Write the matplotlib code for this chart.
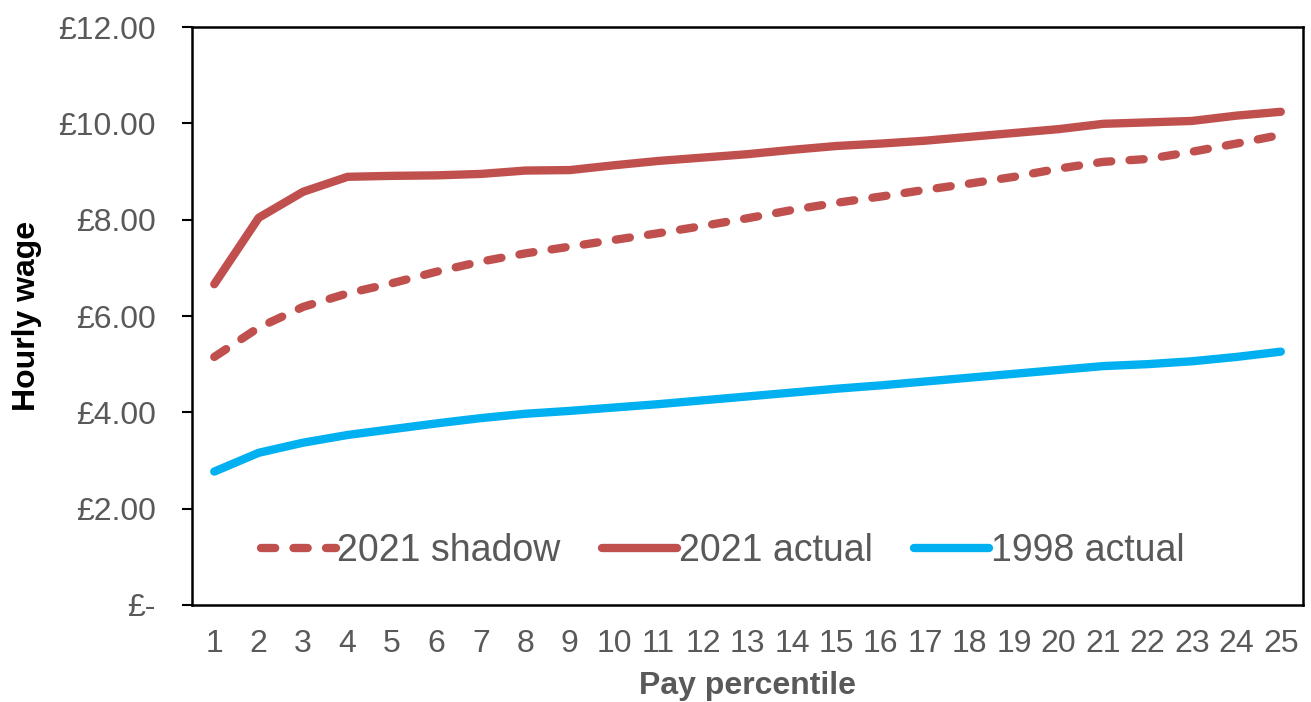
import matplotlib
matplotlib.use("Agg")
import matplotlib.pyplot as plt

plt.rcParams['font.family'] = ['Liberation Sans', 'DejaVu Sans']

# pay percentiles 1..25
percentiles = list(range(1, 26))

# hourly wage (GBP)
shadow_2021 = [5.15, 5.76, 6.19, 6.47, 6.68, 6.92, 7.13, 7.30, 7.44, 7.58,
               7.72, 7.87, 8.03, 8.20, 8.35, 8.48, 8.62, 8.75, 8.89, 9.06,
               9.20, 9.26, 9.41, 9.58, 9.76]
actual_2021 = [6.66, 8.04, 8.58, 8.89, 8.91, 8.92, 8.95, 9.02, 9.03, 9.13,
               9.22, 9.29, 9.36, 9.45, 9.53, 9.58, 9.64, 9.72, 9.80, 9.88,
               9.99, 10.02, 10.05, 10.16, 10.24]
actual_1998 = [2.77, 3.16, 3.37, 3.53, 3.65, 3.77, 3.88, 3.97, 4.03, 4.10,
               4.17, 4.25, 4.33, 4.41, 4.49, 4.56, 4.64, 4.72, 4.80, 4.88,
               4.96, 5.00, 5.06, 5.15, 5.26]

yticks = [0, 2, 4, 6, 8, 10, 12]
ytick_labels = ['£-', '£2.00', '£4.00', '£6.00', '£8.00', '£10.00', '£12.00']

red = '#C0504D'
blue = '#00B0F0'
grey = '#595959'

fig = plt.figure(figsize=(13.11, 7.02), dpi=100)
ax = fig.add_axes([0.1465, 0.1382, 0.8474, 0.8233])

ax.plot(percentiles, shadow_2021, color=red, lw=6, dashes=(1.7, 2.2),
        dash_capstyle='round', solid_capstyle='round', label='2021 shadow')
ax.plot(percentiles, actual_2021, color=red, lw=6, solid_capstyle='round',
        label='2021 actual')
ax.plot(percentiles, actual_1998, color=blue, lw=6, solid_capstyle='round',
        label='1998 actual')

ax.set_xlim(0.5, 25.5)
ax.set_ylim(0, 12)
ax.set_xticks(percentiles)
ax.set_xticklabels([str(p) for p in percentiles])
ax.set_yticks(yticks)
ax.set_yticklabels(ytick_labels)

for s in ax.spines.values():
    s.set_linewidth(1.8)
    s.set_color('black')

ax.tick_params(axis='y', length=7, width=1.5, pad=19, labelsize=23, labelcolor=grey)
ax.tick_params(axis='x', length=0, pad=17, labelsize=23, labelcolor=grey)

ax.set_xlabel('Pay percentile', fontsize=23, fontweight='bold', color=grey, labelpad=9)
ax.set_ylabel('Hourly wage', fontsize=23, fontweight='bold', color='black', labelpad=12)

ax.legend(loc='center', bbox_to_anchor=(0.4775, 0.093), ncol=3, frameon=False,
          fontsize=27, labelcolor=grey, handlelength=2.0, columnspacing=1.1,
          handletextpad=0.05)

fig.savefig('out.png', dpi=100)
